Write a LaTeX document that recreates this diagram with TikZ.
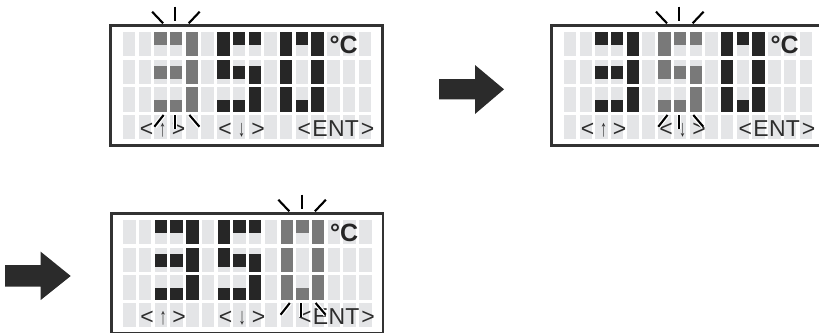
\documentclass[tikz,border=0pt]{standalone}
\usepackage{fontspec}
\setmainfont{Liberation Sans}
\definecolor{cellc}{RGB}{228,229,231}
\definecolor{darkc}{RGB}{38,38,38}
\definecolor{greyc}{RGB}{121,121,121}
\definecolor{framec}{RGB}{50,50,50}
\definecolor{arrowc}{RGB}{43,43,43}
\definecolor{textc}{RGB}{45,45,45}
\def\patthree{0/1/0/12.7,1/1/0/12.7,2/1/0/24.3,0/2/6/19,1/2/6/19,2/2/0/24.3,0/3/12.3/24.3,1/3/12.3/24.3,2/3/0/24.3}
\def\patfive{0/1/0/24.3,1/1/0/12.7,2/1/0/12.7,0/2/0/19,1/2/6/19,2/2/6/24.3,0/3/12.3/24.3,1/3/12.3/24.3,2/3/0/24.3}
\def\patzero{0/1/0/24.3,1/1/0/12.7,2/1/0/24.3,0/2/0/24.3,2/2/0/24.3,0/3/0/24.3,1/3/12.3/24.3,2/3/0/24.3}
\newcommand\lcddigit[5]{%
  \foreach \ci/\ri/\ya/\yb in #5 {
    \fill[#4] ({122.8+(#3+\ci)*15.72+#1},{32+(\ri-1)*27.67+\ya+#2}) rectangle +(12.4,{\yb-\ya});
  }}
\newcommand\lcdpanel[6]{%
  \draw[framec,line width=2.7pt] ({110.7+#1},{25.3+#2}) rectangle ({382.6+#1},{145.7+#2});
  \foreach \c in {0,...,15}{\foreach \r in {0,...,3}{
    \fill[cellc] ({122.8+\c*15.72+#1},{32+\r*27.67+#2}) rectangle +(12.4,24.3);}}
  \lcddigit{#1}{#2}{2}{#3}{\patthree}
  \lcddigit{#1}{#2}{6}{#4}{\patfive}
  \lcddigit{#1}{#2}{10}{#5}{\patzero}
  \node[unitlbl] (#6-unit) at ({329.5+#1},{53.3+#2}) {°C};
  \node[lcdkey] (#6-ul) at ({146.5+#1},{136.7+#2}) {<};
  \node[lcdkey] (#6-ua) at ({162.5+#1},{136.7+#2}) {\arrowglyph{↑}};
  \node[lcdkey] (#6-ur) at ({178.5+#1},{136.7+#2}) {>};
  \node[lcdkey] (#6-dl) at ({225+#1},{136.7+#2}) {<};
  \node[lcdkey] (#6-da) at ({241.5+#1},{136.7+#2}) {\arrowglyph{↓}};
  \node[lcdkey] (#6-dr) at ({258+#1},{136.7+#2}) {>};
  \node[lcdkey] (#6-e1) at ({304.4+#1},{136.7+#2}) {<};
  \node[lcdkey] (#6-e2) at ({320.1+#1},{136.7+#2}) {E};
  \node[lcdkey] (#6-e3) at ({336.5+#1},{136.7+#2}) {N};
  \node[lcdkey] (#6-e4) at ({351.8+#1},{136.7+#2}) {T};
  \node[lcdkey] (#6-e5) at ({367.5+#1},{136.7+#2}) {>};
}
\newcommand\arrowglyph[1]{\resizebox{7pt}{13.8pt}{\raisebox{\depth}{#1}}}
\newcommand\blinkmarks[2]{%
  \draw[spark] ({#1-23.8},{11.7+#2}) -- ({#1-12.8},{23.3+#2});
  \draw[spark] ({#1-0.5},{6.7+#2}) -- ({#1-0.5},{20.7+#2});
  \draw[spark] ({#1+23.8},{11.7+#2}) -- ({#1+12.8},{23.3+#2});
  \draw[sparkhalo] ({#1-21.5},{126.7+#2}) -- ({#1-12.3},{115+#2});
  \draw[sparkhalo] ({#1-1},{115+#2}) -- ({#1-1},{129+#2});
  \draw[sparkhalo] ({#1+13.5},{115+#2}) -- ({#1+23.5},{126.7+#2});
  \draw[spark] ({#1-21.5},{126.7+#2}) -- ({#1-12.3},{115+#2});
  \draw[spark] ({#1-1},{115+#2}) -- ({#1-1},{129+#2});
  \draw[spark] ({#1+13.5},{115+#2}) -- ({#1+23.5},{126.7+#2});
}
\begin{document}
\begin{tikzpicture}[x=1pt,y=-1pt,
  lcdkey/.style={anchor=base,inner sep=0pt,text=textc,font=\fontsize{23}{23}\selectfont},
  unitlbl/.style={anchor=base west,inner sep=0pt,text=darkc,font=\bfseries\fontsize{25}{25}\selectfont},
  spark/.style={draw=black,line width=2.1pt},
  sparkhalo/.style={draw=white,line width=4.6pt},
  bigarrow/.style={fill=arrowc}]
\useasboundingbox (0,0) rectangle (819,332);
\clip (0,0) rectangle (819,332);
% display 1: first digit blinking
\lcdpanel{0}{0}{greyc}{darkc}{darkc}{da}
\blinkmarks{175.9}{0}
% display 2: second digit blinking
\lcdpanel{441}{0}{darkc}{greyc}{darkc}{db}
\blinkmarks{679.8}{0}
% display 3: third digit blinking
\lcdpanel{0.5}{188}{darkc}{darkc}{greyc}{dc}
\blinkmarks{302.1}{188}
% big arrows
\fill[bigarrow] (439,79) -- (475,79) -- (475,65) -- (504,89.3) -- (475,114) -- (475,99.3) -- (439,99.3) -- cycle;
\fill[bigarrow] (5,265) -- (40.7,265) -- (40.7,251.7) -- (70.7,276) -- (40.7,300) -- (40.7,286.7) -- (5,286.7) -- cycle;
\end{tikzpicture}
\end{document}
